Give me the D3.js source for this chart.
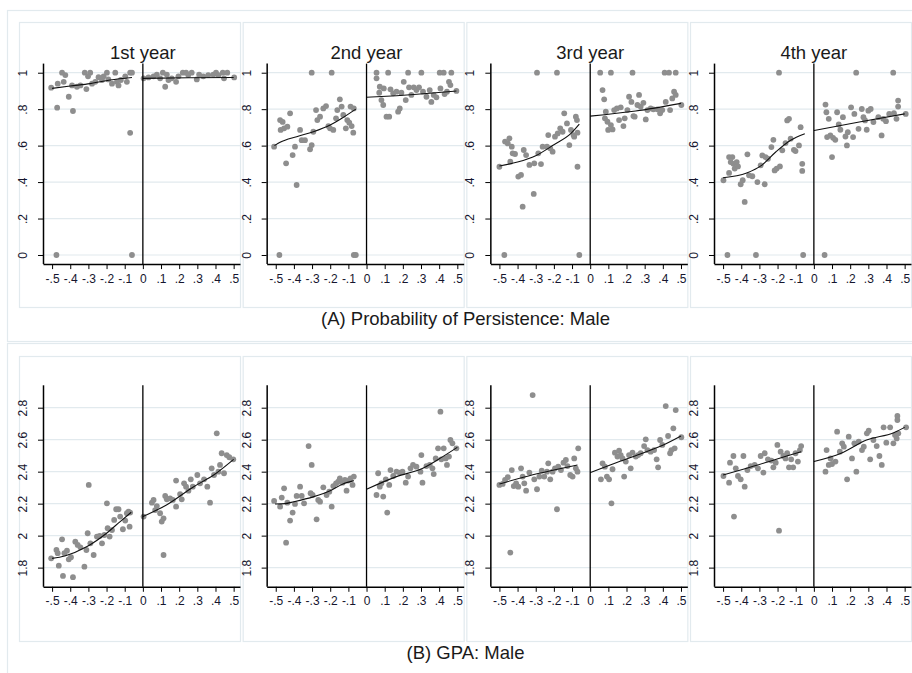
<!DOCTYPE html>
<html><head><meta charset="utf-8">
<script src="https://cdn.jsdelivr.net/npm/d3@7"></script>
<style>body{margin:0;background:#fff}svg{display:block}</style>
</head><body><div id="chart"></div>
<script>
// ---------- DATA ----------
const yearTitles = ["1st year","2nd year","3rd year","4th year"];
const sectionTitles = ["(A) Probability of Persistence: Male","(B) GPA: Male"];
const xTicks = [-0.5,-0.4,-0.3,-0.2,-0.1,0,0.1,0.2,0.3,0.4,0.5];
const xTickLabels = ["-.5","-.4","-.3","-.2","-.1","0",".1",".2",".3",".4",".5"];
const persistTicks = [0,0.2,0.4,0.6,0.8,1];
const persistTickLabels = ["0",".2",".4",".6",".8","1"];
const gpaTicks = [1.8,2,2.2,2.4,2.6,2.8];
const gpaTickLabels = ["1.8","2","2.2","2.4","2.6","2.8"];

// Persistence, 1st year
const persist1Left = [[-0.505,0.918],[-0.472,0.808],[-0.476,0],[-0.469,0.94],[-0.445,1],[-0.427,0.987],[-0.436,0.95],[-0.408,0.868],[-0.385,0.79],[-0.39,0.93],[-0.363,0.923],[-0.344,0.93],[-0.32,1],[-0.311,0.91],[-0.302,0.98],[-0.29,1],[-0.28,0.94],[-0.262,0.95],[-0.244,0.975],[-0.225,0.96],[-0.216,0.98],[-0.198,1],[-0.19,0.963],[-0.17,0.94],[-0.152,1],[-0.143,0.95],[-0.134,0.93],[-0.121,0.96],[-0.097,0.98],[-0.088,0.95],[-0.07,1],[-0.06,1],[-0.07,0.67],[-0.06,0]];
const persist1Right = [[0.004,0.969],[0.031,0.974],[0.059,0.98],[0.077,0.99],[0.095,0.969],[0.11,1],[0.123,0.923],[0.132,0.99],[0.141,0.96],[0.159,0.969],[0.183,0.95],[0.196,0.98],[0.22,1],[0.238,1],[0.25,0.987],[0.269,1],[0.297,0.963],[0.31,0.99],[0.333,0.98],[0.36,0.987],[0.388,0.99],[0.403,1],[0.416,0.987],[0.44,1],[0.447,0.969],[0.465,1],[0.503,0.974]];
const persist1FitLeft = [[-0.5,0.914],[-0.4,0.927],[-0.29,0.94],[-0.18,0.96],[-0.06,0.974]];
const persist1FitRight = [[0,0.969],[0.25,0.972],[0.5,0.974]];

// Persistence, 2nd year
const persist2Left = [[-0.509,0.594],[-0.48,0],[-0.476,0.74],[-0.462,0.73],[-0.473,0.686],[-0.454,0.695],[-0.443,0.503],[-0.436,0.704],[-0.421,0.777],[-0.407,0.548],[-0.394,0.594],[-0.385,0.384],[-0.366,0.686],[-0.357,0.63],[-0.339,0.63],[-0.311,0.58],[-0.302,1],[-0.302,0.603],[-0.293,0.676],[-0.278,0.795],[-0.271,0.74],[-0.256,0.759],[-0.238,0.804],[-0.223,0.817],[-0.21,0.707],[-0.201,0.695],[-0.192,1],[-0.183,0.686],[-0.168,0.75],[-0.161,0.795],[-0.147,0.854],[-0.137,0.814],[-0.128,0.768],[-0.114,0.695],[-0.106,0.74],[-0.095,0.726],[-0.088,0.814],[-0.082,0.707],[-0.073,0.671],[-0.07,0],[-0.059,0],[-0.07,0.804]];
const persist2Right = [[0.055,1],[0.055,0.969],[0.07,0.89],[0.073,0.923],[0.082,0.85],[0.092,0.823],[0.095,0.914],[0.11,0.759],[0.119,1],[0.125,0.759],[0.132,0.909],[0.147,0.887],[0.165,0.896],[0.174,0.786],[0.183,0.804],[0.192,0.89],[0.205,0.95],[0.216,0.85],[0.229,1],[0.234,0.92],[0.247,0.878],[0.26,0.92],[0.275,0.905],[0.289,0.92],[0.302,1],[0.311,0.896],[0.33,0.868],[0.348,0.905],[0.357,0.84],[0.37,0.878],[0.385,0.865],[0.403,1],[0.407,0.914],[0.425,1],[0.43,0.883],[0.443,0.896],[0.454,0.95],[0.467,1],[0.462,0.932],[0.495,0.9]];
const persist2FitLeft = [[-0.507,0.6],[-0.476,0.618],[-0.385,0.649],[-0.293,0.676],[-0.2,0.713],[-0.128,0.755],[-0.059,0.8]];
const persist2FitRight = [[0,0.865],[0.165,0.874],[0.348,0.887],[0.495,0.9]];

// Persistence, 3rd year
const persist3Left = [[-0.5,0.484],[-0.473,0],[-0.469,0.622],[-0.454,0.612],[-0.445,0.64],[-0.44,0.512],[-0.432,0.594],[-0.427,0.558],[-0.414,0.554],[-0.396,0.43],[-0.381,0.439],[-0.372,0.265],[-0.366,0.576],[-0.353,0.548],[-0.335,0.494],[-0.311,0.335],[-0.308,0.503],[-0.293,1],[-0.286,0.558],[-0.271,0.499],[-0.262,0.594],[-0.238,0.594],[-0.231,0.658],[-0.22,0.585],[-0.207,0.567],[-0.194,0.649],[-0.183,1],[-0.179,0.667],[-0.165,0.695],[-0.152,0.676],[-0.143,0.777],[-0.128,0.722],[-0.115,0.603],[-0.106,0.686],[-0.092,0.658],[-0.088,0.649],[-0.079,0.759],[-0.073,0.74],[-0.07,0.484],[-0.06,0],[-0.07,0.671]];
const persist3Right = [[0.055,1],[0.068,0.905],[0.077,0.854],[0.081,0.75],[0.086,0.786],[0.095,0.731],[0.099,0.686],[0.114,1],[0.114,0.713],[0.123,0.689],[0.132,0.795],[0.147,0.804],[0.159,0.74],[0.168,0.81],[0.183,0.707],[0.19,0.75],[0.205,0.795],[0.214,0.868],[0.227,0.84],[0.233,1],[0.238,0.762],[0.245,0.759],[0.26,0.823],[0.269,0.878],[0.278,0.814],[0.293,0.835],[0.306,0.744],[0.315,0.795],[0.333,0.804],[0.348,0.799],[0.37,0.799],[0.385,0.777],[0.397,0.795],[0.41,1],[0.416,0.84],[0.434,1],[0.44,0.795],[0.452,0.859],[0.462,0.896],[0.471,1],[0.471,0.878],[0.502,0.823]];
const persist3FitLeft = [[-0.5,0.488],[-0.4,0.51],[-0.3,0.545],[-0.2,0.605],[-0.106,0.667],[-0.06,0.718]];
const persist3FitRight = [[0,0.762],[0.25,0.79],[0.5,0.832]];

// Persistence, 4th year
const persist4Left = [[-0.498,0.41],[-0.476,0],[-0.467,0.45],[-0.467,0.537],[-0.458,0.51],[-0.449,0.537],[-0.443,0.5],[-0.436,0.474],[-0.425,0.51],[-0.418,0.486],[-0.403,0.388],[-0.392,0.41],[-0.381,0.291],[-0.366,0.552],[-0.357,0.437],[-0.339,0.432],[-0.319,0],[-0.311,0.4],[-0.293,0.492],[-0.284,0.546],[-0.271,0.388],[-0.266,0.537],[-0.253,0.528],[-0.234,0.592],[-0.223,0.632],[-0.216,0.464],[-0.205,0.474],[-0.192,1],[-0.187,0.486],[-0.174,0.574],[-0.156,0.614],[-0.147,0.738],[-0.137,0.747],[-0.128,0.638],[-0.11,0.577],[-0.101,0.57],[-0.082,0.601],[-0.073,0.701],[-0.064,0.5],[-0.064,0.461],[-0.059,0]];
const persist4Right = [[0.059,0],[0.064,0.825],[0.069,0.783],[0.073,0.647],[0.082,0.747],[0.091,0.656],[0.1,0.537],[0.106,0.643],[0.118,0.632],[0.128,0.783],[0.137,0.716],[0.146,0.687],[0.16,0.756],[0.174,0.65],[0.182,0.601],[0.187,0.674],[0.205,0.81],[0.216,0.647],[0.223,0.774],[0.233,1],[0.246,0.692],[0.264,0.801],[0.273,0.756],[0.282,0.738],[0.291,0.687],[0.3,0.792],[0.313,0.801],[0.328,0.729],[0.355,0.756],[0.373,0.656],[0.382,0.747],[0.397,0.734],[0.415,0.774],[0.437,1],[0.441,0.778],[0.455,0.747],[0.464,0.847],[0.464,0.814],[0.506,0.774]];
const persist4FitLeft = [[-0.5,0.424],[-0.37,0.45],[-0.29,0.49],[-0.21,0.565],[-0.13,0.628],[-0.05,0.665]];
const persist4FitRight = [[0,0.683],[0.25,0.73],[0.5,0.774]];

// GPA, 1st year
const gpa1Left = [[-0.505,1.858],[-0.476,1.91],[-0.469,1.89],[-0.463,1.812],[-0.445,1.977],[-0.44,1.748],[-0.432,1.89],[-0.418,1.906],[-0.408,1.852],[-0.396,1.865],[-0.385,1.74],[-0.372,1.962],[-0.359,1.942],[-0.344,1.927],[-0.322,1.806],[-0.311,1.91],[-0.304,2.015],[-0.298,2.317],[-0.289,1.952],[-0.271,1.879],[-0.253,1.994],[-0.238,1.998],[-0.225,1.952],[-0.212,2.004],[-0.198,2.202],[-0.194,2.046],[-0.183,1.994],[-0.17,2.035],[-0.158,2.098],[-0.147,2.165],[-0.134,2.165],[-0.125,2.119],[-0.11,2.04],[-0.097,2.094],[-0.088,2.14],[-0.079,2.15],[-0.073,2.056],[-0.07,2.144]];
const gpa1Right = [[0.004,2.119],[0.05,2.206],[0.059,2.223],[0.068,2.16],[0.077,2.185],[0.095,2.14],[0.104,2.088],[0.114,2.108],[0.114,1.879],[0.123,2.248],[0.132,2.227],[0.15,2.233],[0.165,2.223],[0.183,2.181],[0.183,2.344],[0.205,2.26],[0.214,2.227],[0.227,2.327],[0.238,2.306],[0.251,2.281],[0.264,2.352],[0.275,2.306],[0.3,2.379],[0.315,2.327],[0.337,2.352],[0.355,2.306],[0.37,2.206],[0.379,2.421],[0.392,2.379],[0.407,2.64],[0.416,2.4],[0.425,2.442],[0.434,2.515],[0.447,2.39],[0.462,2.504],[0.476,2.49],[0.498,2.477]];
const gpa1FitLeft = [[-0.5,1.858],[-0.43,1.873],[-0.31,1.93],[-0.2,2.015],[-0.125,2.088],[-0.064,2.146]];
const gpa1FitRight = [[0,2.119],[0.13,2.192],[0.28,2.306],[0.39,2.379],[0.5,2.477]];

// GPA, 2nd year
const gpa2Left = [[-0.509,2.217],[-0.476,2.181],[-0.467,2.238],[-0.454,2.296],[-0.443,1.956],[-0.436,2.206],[-0.421,2.094],[-0.407,2.144],[-0.394,2.198],[-0.385,2.248],[-0.366,2.306],[-0.357,2.248],[-0.344,2.202],[-0.319,2.56],[-0.308,2.265],[-0.302,2.442],[-0.297,2.254],[-0.275,2.102],[-0.266,2.223],[-0.256,2.212],[-0.238,2.302],[-0.22,2.254],[-0.205,2.275],[-0.192,2.181],[-0.183,2.31],[-0.168,2.327],[-0.156,2.337],[-0.147,2.358],[-0.132,2.331],[-0.119,2.348],[-0.11,2.281],[-0.101,2.344],[-0.088,2.358],[-0.077,2.317],[-0.07,2.369]];
const gpa2Right = [[0.055,2.254],[0.064,2.39],[0.073,2.306],[0.082,2.327],[0.092,2.244],[0.106,2.352],[0.114,2.144],[0.125,2.317],[0.132,2.41],[0.147,2.373],[0.165,2.4],[0.183,2.394],[0.198,2.4],[0.216,2.331],[0.229,2.369],[0.242,2.421],[0.256,2.442],[0.275,2.431],[0.297,2.4],[0.302,2.504],[0.308,2.331],[0.33,2.435],[0.348,2.442],[0.363,2.421],[0.37,2.385],[0.381,2.483],[0.394,2.546],[0.407,2.775],[0.412,2.477],[0.425,2.546],[0.436,2.483],[0.443,2.442],[0.454,2.494],[0.462,2.598],[0.473,2.577],[0.495,2.546]];
const gpa2FitLeft = [[-0.504,2.198],[-0.45,2.2],[-0.4,2.212],[-0.29,2.244],[-0.2,2.281],[-0.13,2.323],[-0.07,2.344]];
const gpa2FitRight = [[0,2.29],[0.165,2.369],[0.31,2.421],[0.42,2.494],[0.5,2.552]];

// GPA, 3rd year
const gpa3Left = [[-0.5,2.317],[-0.482,2.323],[-0.469,2.348],[-0.454,2.365],[-0.44,1.894],[-0.432,2.41],[-0.421,2.31],[-0.408,2.327],[-0.396,2.306],[-0.381,2.421],[-0.372,2.369],[-0.363,2.327],[-0.353,2.281],[-0.335,2.394],[-0.317,2.879],[-0.308,2.352],[-0.293,2.29],[-0.28,2.369],[-0.267,2.406],[-0.253,2.369],[-0.238,2.4],[-0.231,2.452],[-0.22,2.352],[-0.207,2.4],[-0.194,2.421],[-0.183,2.165],[-0.176,2.431],[-0.161,2.41],[-0.147,2.456],[-0.134,2.473],[-0.125,2.435],[-0.11,2.379],[-0.097,2.369],[-0.088,2.483],[-0.079,2.421],[-0.07,2.4],[-0.066,2.546]];
const gpa3Right = [[0.059,2.352],[0.068,2.452],[0.081,2.431],[0.092,2.369],[0.104,2.352],[0.117,2.202],[0.123,2.415],[0.136,2.519],[0.15,2.494],[0.159,2.531],[0.168,2.504],[0.178,2.483],[0.187,2.369],[0.196,2.463],[0.214,2.504],[0.223,2.421],[0.233,2.519],[0.251,2.494],[0.264,2.504],[0.278,2.515],[0.297,2.56],[0.306,2.602],[0.315,2.535],[0.333,2.525],[0.352,2.535],[0.366,2.477],[0.374,2.427],[0.385,2.598],[0.397,2.567],[0.416,2.81],[0.429,2.623],[0.44,2.515],[0.447,2.535],[0.458,2.671],[0.471,2.785],[0.465,2.546],[0.502,2.615]];
const gpa3FitLeft = [[-0.5,2.323],[-0.34,2.373],[-0.2,2.41],[-0.07,2.442]];
const gpa3FitRight = [[0,2.394],[0.11,2.442],[0.26,2.504],[0.39,2.56],[0.5,2.623]];

// GPA, 4th year
const gpa4Left = [[-0.498,2.373],[-0.467,2.331],[-0.462,2.456],[-0.443,2.498],[-0.44,2.119],[-0.43,2.421],[-0.418,2.373],[-0.403,2.352],[-0.388,2.498],[-0.381,2.306],[-0.366,2.41],[-0.348,2.435],[-0.326,2.442],[-0.308,2.421],[-0.293,2.498],[-0.278,2.394],[-0.271,2.515],[-0.253,2.477],[-0.234,2.469],[-0.223,2.427],[-0.21,2.456],[-0.201,2.567],[-0.192,2.031],[-0.183,2.525],[-0.168,2.498],[-0.156,2.483],[-0.147,2.515],[-0.137,2.427],[-0.125,2.477],[-0.114,2.427],[-0.101,2.515],[-0.088,2.463],[-0.077,2.535],[-0.07,2.56]];
const gpa4Right = [[0.064,2.4],[0.07,2.535],[0.082,2.442],[0.092,2.483],[0.1,2.448],[0.119,2.463],[0.128,2.65],[0.143,2.525],[0.156,2.577],[0.165,2.556],[0.183,2.352],[0.192,2.619],[0.21,2.483],[0.223,2.577],[0.234,2.4],[0.247,2.588],[0.265,2.535],[0.275,2.556],[0.292,2.64],[0.302,2.656],[0.31,2.477],[0.328,2.598],[0.346,2.56],[0.361,2.498],[0.374,2.442],[0.384,2.677],[0.399,2.581],[0.42,2.677],[0.438,2.577],[0.447,2.629],[0.456,2.608],[0.46,2.748],[0.46,2.723],[0.465,2.64],[0.508,2.677]];
const gpa4FitLeft = [[-0.5,2.379],[-0.37,2.421],[-0.22,2.473],[-0.07,2.525]];
const gpa4FitRight = [[0,2.463],[0.15,2.515],[0.29,2.598],[0.44,2.644],[0.5,2.677]];

// ---------- DRAW ----------
const W = 912, H = 673;
const FONT = "'Liberation Sans', Arial, sans-serif";
const lightLine = "#e2eaee";
const textCol = "#15152e";
const dotCol = "#8e8e8e";

const svg = d3.select("#chart").append("svg").attr("width", W).attr("height", H);
svg.append("rect").attr("width", W).attr("height", H).attr("fill", "#fff");

const rows = [
  { top: 22, ticks: persistTicks, labels: persistTickLabels, domain: [-0.05, 1.05], yr: [264.1, 63.6], frameY: 10, frameH: 331,
    title: sectionTitles[0], titleY: 325,
    panels: [[persist1Left,persist1Right,persist1FitLeft,persist1FitRight],[persist2Left,persist2Right,persist2FitLeft,persist2FitRight],[persist3Left,persist3Right,persist3FitLeft,persist3FitRight],[persist4Left,persist4Right,persist4FitLeft,persist4FitRight]] },
  { top: 356, ticks: gpaTicks, labels: gpaTickLabels, domain: [1.68, 2.94], yr: [586.8, 385.3], frameY: 343, frameH: 345,
    title: sectionTitles[1], titleY: 658.5,
    panels: [[gpa1Left,gpa1Right,gpa1FitLeft,gpa1FitRight],[gpa2Left,gpa2Right,gpa2FitLeft,gpa2FitRight],[gpa3Left,gpa3Right,gpa3FitLeft,gpa3FitRight],[gpa4Left,gpa4Right,gpa4FitLeft,gpa4FitRight]] }
];

const boxW = 221, boxH = 285;

rows.forEach((row, ri) => {
  // outer frame
  svg.append("rect").attr("x", 7.5).attr("y", row.frameY + 0.5).attr("width", 940).attr("height", row.frameH)
    .attr("fill", "none").attr("stroke", lightLine).attr("stroke-width", 1.2);

  const y = d3.scaleLinear().domain(row.domain).range(row.yr);

  row.panels.forEach((pd, pi) => {
    const bx = 19 + pi * 223.67;
    const g = svg.append("g");
    g.append("rect").attr("x", bx + 0.5).attr("y", row.top + 0.5).attr("width", boxW).attr("height", boxH)
      .attr("fill", "#fff").attr("stroke", lightLine).attr("stroke-width", 1.2);

    const x = d3.scaleLinear().domain([-0.55, 0.535]).range([bx + 24, bx + 221]);
    const x0 = x(-0.55), x1 = x(0.535);
    const yTop = y.range()[1], yBot = y.range()[0];

    // gridlines
    g.selectAll(".grid").data(row.ticks).enter().append("line")
      .attr("x1", x0).attr("x2", x1).attr("y1", d => y(d)).attr("y2", d => y(d))
      .attr("stroke", lightLine).attr("stroke-width", 1.2);

    // scatter
    const pts = pd[0].concat(pd[1]);
    g.selectAll("circle").data(pts).enter().append("circle")
      .attr("cx", d => x(d[0])).attr("cy", d => y(d[1])).attr("r", 2.9).attr("fill", dotCol);

    // fitted lines
    const line = d3.line().x(d => x(d[0])).y(d => y(d[1])).curve(d3.curveMonotoneX);
    [pd[2], pd[3]].forEach(f => {
      g.append("path").attr("d", line(f)).attr("fill", "none").attr("stroke", "#111").attr("stroke-width", 1.1);
    });

    // cutoff line at 0
    g.append("line").attr("x1", x(0)).attr("x2", x(0)).attr("y1", yTop).attr("y2", yBot)
      .attr("stroke", "#000").attr("stroke-width", 1.3);

    // x axis
    const xa = d3.axisBottom(x).tickValues(xTicks).tickSize(5).tickSizeOuter(0).tickPadding(5)
      .tickFormat((d, i) => xTickLabels[i]);
    const gx = g.append("g").attr("transform", `translate(0,${yBot})`).call(xa);
    gx.select(".domain").attr("stroke", "#000").attr("stroke-width", 1.5);
    gx.selectAll(".tick line").attr("stroke", "#000").attr("stroke-width", 1);
    gx.selectAll(".tick text").attr("font-family", FONT).attr("font-size", 12).attr("fill", textCol)
      .attr("dy", null).attr("y", 18.5);

    // y axis
    const ya = d3.axisLeft(y).tickValues(row.ticks).tickSize(5).tickSizeOuter(0)
      .tickFormat((d, i) => row.labels[i]);
    const gy = g.append("g").attr("transform", `translate(${x0},0)`).call(ya);
    gy.select(".domain").attr("d", `M0.5,${yBot}V${yTop}`).attr("stroke", "#000").attr("stroke-width", 1.5);
    gy.selectAll(".tick line").attr("stroke", "#000").attr("stroke-width", 1);
    gy.selectAll(".tick text").attr("font-family", FONT).attr("font-size", 12).attr("fill", textCol)
      .attr("x", null).attr("dy", null).attr("text-anchor", "middle")
      .attr("transform", "translate(-16,0) rotate(-90)");

    // year title (top row only)
    if (ri === 0) {
      g.append("text").attr("x", x(0)).attr("y", 58.5).attr("text-anchor", "middle")
        .attr("font-family", FONT).attr("font-size", 18.5).attr("fill", "#1a1a1a").text(yearTitles[pi]);
    }
  });

  svg.append("text").attr("x", 465.5).attr("y", row.titleY).attr("text-anchor", "middle")
    .attr("font-family", FONT).attr("font-size", 18.5).attr("fill", "#1a1a1a").text(row.title);
});
</script></body></html>
